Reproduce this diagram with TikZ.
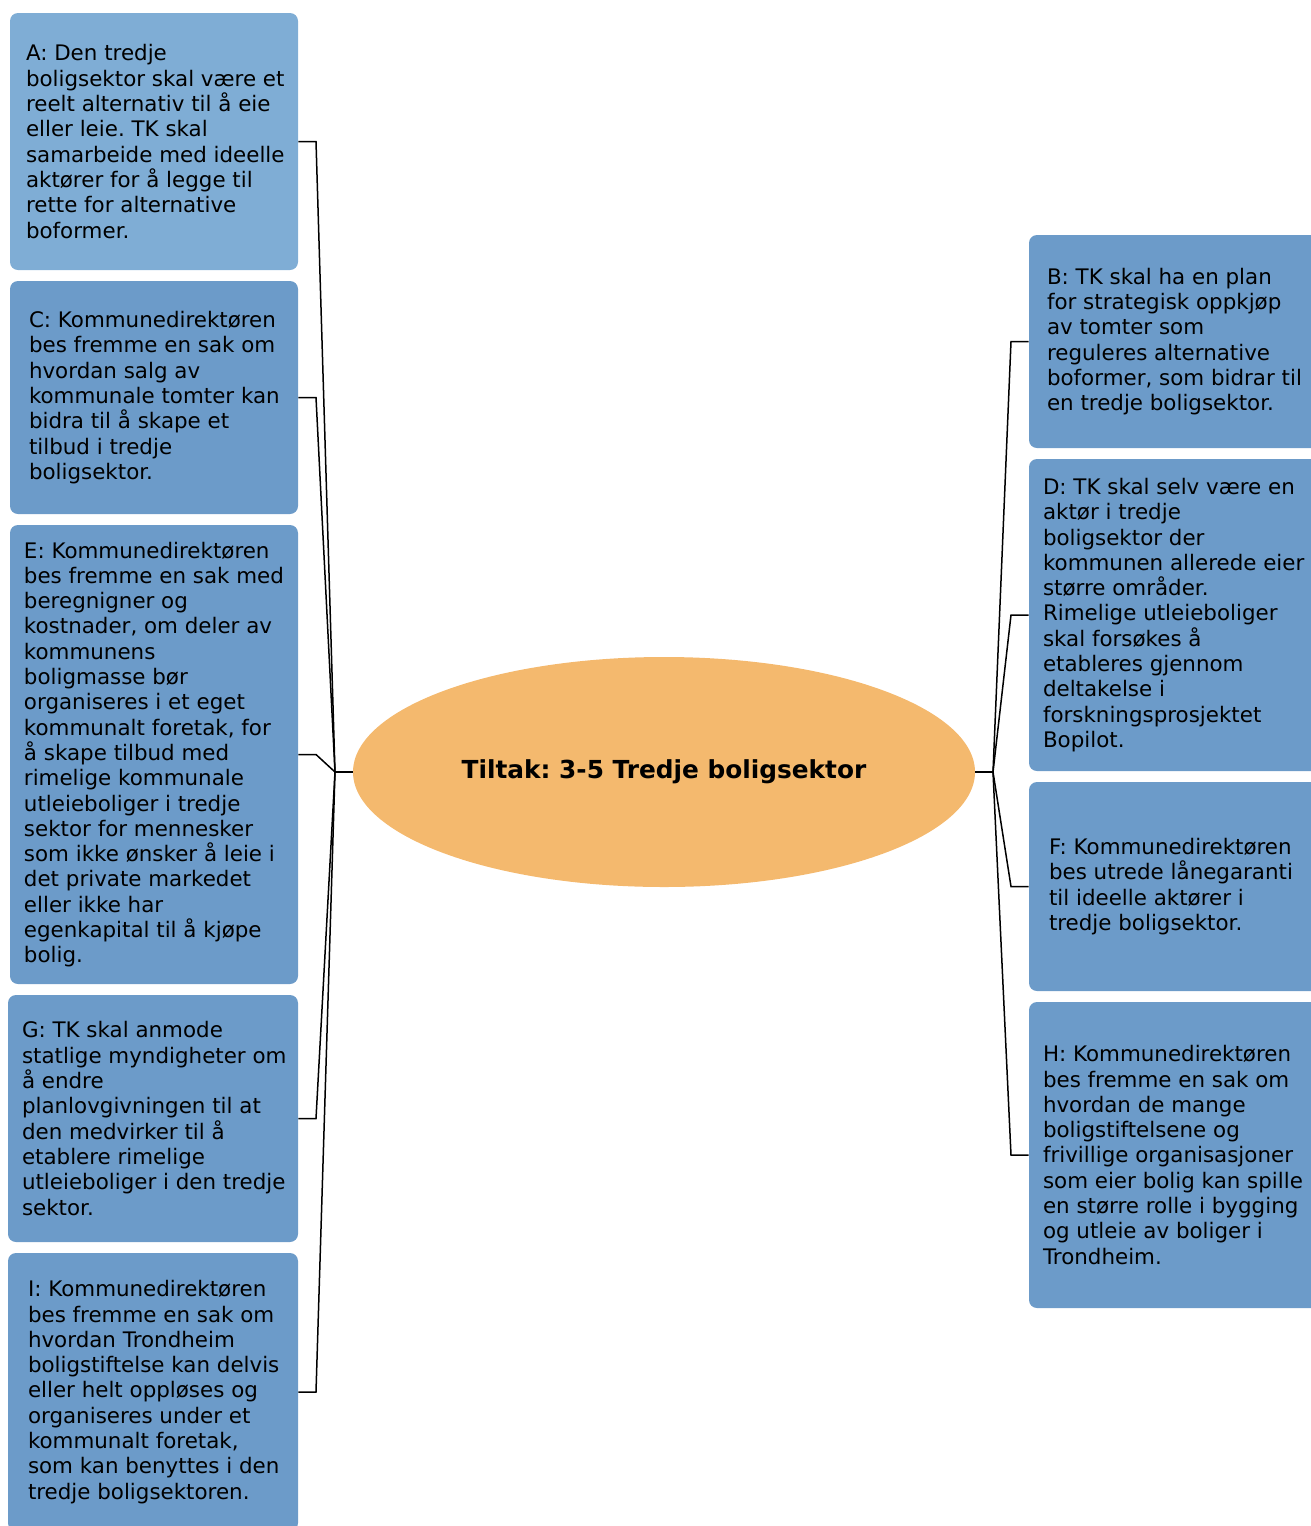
\documentclass[tikz,border=0pt]{standalone}
\usepackage{fontspec}
\setmainfont{DejaVu Sans}
\usetikzlibrary{shapes.geometric}
\frenchspacing

\definecolor{boxblue}{HTML}{6C9BC9}
\definecolor{boxlight}{HTML}{7FADD5}
\definecolor{hubfill}{HTML}{F4B96E}

\tikzset{
  card/.style={draw=none, fill=boxblue, rounded corners=4pt, inner sep=0pt},
  cardtext/.style={anchor=west, align=left, inner sep=0pt,
                   font=\fontsize{10.7}{12.65}\selectfont, text=black},
  hub/.style={ellipse, fill=hubfill, draw=none, inner sep=0pt,
              minimum width=311pt, minimum height=115pt,
              font=\fontsize{12.4}{14}\selectfont\bfseries},
  link/.style={line width=0.75pt, black},
  stub/.style={line width=1.2pt, black},
}

\begin{document}
\begin{tikzpicture}[x=0.5pt, y=-0.5pt]
  \useasboundingbox (0,0) rectangle (1311,1526);
  \clip (0,0) rectangle (1311,1526);

  % central topic
  \node[hub] (hub) at (664,772) {Tiltak: 3-5 Tredje boligsektor};

  % left column
  \node[card, fill=boxlight, minimum width=144pt, minimum height=128.5pt] (A) at (154,141.5) {};
  \node[cardtext] (At) at ([xshift=8pt]A.west) {A: Den tredje\\boligsektor skal være et\\reelt alternativ til å eie\\eller leie. TK skal\\samarbeide med ideelle\\aktører for å legge til\\rette for alternative\\boformer.};

  \node[card, minimum width=144pt, minimum height=116.5pt] (C) at (154,397.5) {};
  \node[cardtext] (Ct) at ([xshift=9.5pt]C.west) {C: Kommunedirektøren\\bes fremme en sak om\\hvordan salg av\\kommunale tomter kan\\bidra til å skape et\\tilbud i tredje\\boligsektor.};

  \node[card, minimum width=144pt, minimum height=229.5pt] (E) at (154,754.5) {};
  \node[cardtext] (Et) at ([xshift=7pt]E.west) {E: Kommunedirektøren\\bes fremme en sak med\\beregnigner og\\kostnader, om deler av\\kommunens\\boligmasse bør\\organiseres i et eget\\kommunalt foretak, for\\å skape tilbud med\\rimelige kommunale\\utleieboliger i tredje\\sektor for mennesker\\som ikke ønsker å leie i\\det private markedet\\eller ikke har\\egenkapital til å kjøpe\\bolig.};

  \node[card, minimum width=145pt, minimum height=123.5pt] (G) at (153,1118.5) {};
  \node[cardtext] (Gt) at ([xshift=7pt]G.west) {G: TK skal anmode\\statlige myndigheter om\\å endre\\planlovgivningen til at\\den medvirker til å\\etablere rimelige\\utleieboliger i den tredje\\sektor.};

  \node[card, minimum width=145pt, minimum height=139pt] (I) at (153,1392) {};
  \node[cardtext] (It) at ([xshift=10pt]I.west) {I: Kommunedirektøren\\bes fremme en sak om\\hvordan Trondheim\\boligstiftelse kan delvis\\eller helt oppløses og\\organiseres under et\\kommunalt foretak,\\som kan benyttes i den\\tredje boligsektoren.};

  % right column
  \node[card, minimum width=146pt, minimum height=106.5pt] (B) at (1175,341.5) {};
  \node[cardtext] (Bt) at ([xshift=9pt]B.west) {B: TK skal ha en plan\\for strategisk oppkjøp\\av tomter som\\reguleres alternative\\boformer, som bidrar til\\en tredje boligsektor.};

  \node[card, minimum width=146pt, minimum height=156pt] (D) at (1175,615) {};
  \node[cardtext] (Dt) at ([xshift=7pt]D.west) {D: TK skal selv være en\\aktør i tredje\\boligsektor der\\kommunen allerede eier\\større områder.\\Rimelige utleieboliger\\skal forsøkes å\\etableres gjennom\\deltakelse i\\forskningsprosjektet\\Bopilot.};

  \node[card, minimum width=146pt, minimum height=104.5pt] (F) at (1175,886.5) {};
  \node[cardtext] (Ft) at ([xshift=10pt]F.west) {F: Kommunedirektøren\\bes utrede lånegaranti\\til ideelle aktører i\\tredje boligsektor.};

  \node[card, minimum width=146pt, minimum height=153pt] (H) at (1175,1155) {};
  \node[cardtext] (Ht) at ([xshift=7pt]H.west) {H: Kommunedirektøren\\bes fremme en sak om\\hvordan de mange\\boligstiftelsene og\\frivillige organisasjoner\\som eier bolig kan spille\\en større rolle i bygging\\og utleie av boliger i\\Trondheim.};

  % junctions and elbow columns
  \coordinate (jl) at (335,772);
  \coordinate (jr) at (993,772);
  \coordinate (el) at (316,0);
  \coordinate (er) at (1011,0);

  \draw[stub] (hub.west) -- (jl);
  \draw[stub] (hub.east) -- (jr);

  \foreach \n in {A,C,E,G,I}
    \draw[link] (jl) -- (el |- \n.east) -- (\n.east);
  \foreach \n in {B,D,F,H}
    \draw[link] (jr) -- (er |- \n.west) -- (\n.west);
\end{tikzpicture}
\end{document}
